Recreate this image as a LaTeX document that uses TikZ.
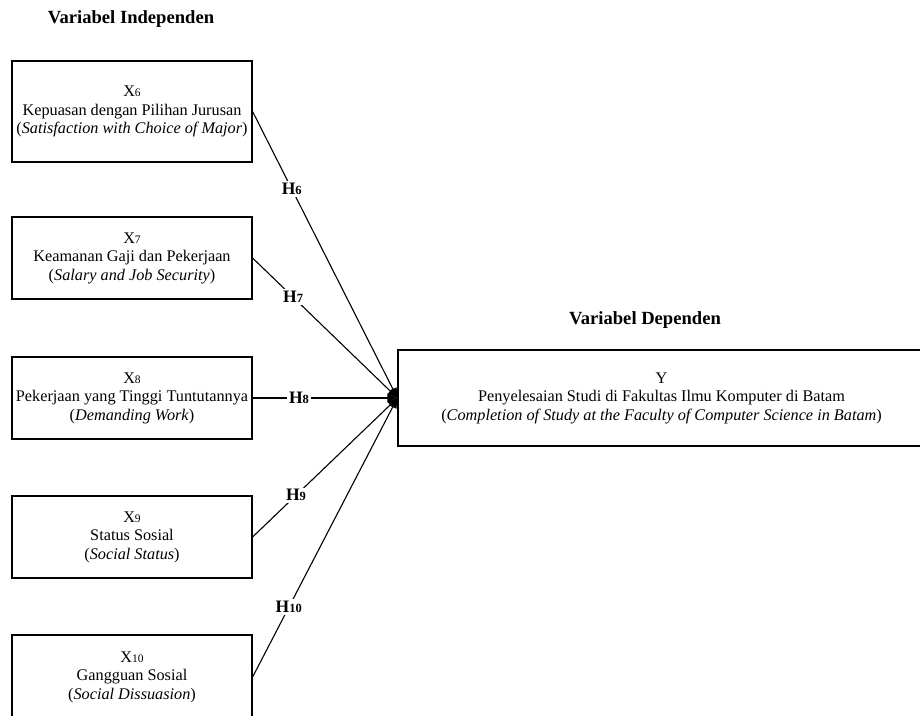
\documentclass[tikz,border=0pt]{standalone}
\usepackage{fontspec}
\setmainfont{Liberation Serif}
\usetikzlibrary{arrows.meta}
\newcommand\smalldigit[1]{{\fontsize{11.5}{12}\selectfont #1}}
\newcommand\hdigit[1]{{\fontsize{12.5}{13}\selectfont #1}}
\begin{document}
\begin{tikzpicture}[x=1pt,y=-1pt,
  box/.style={draw, line width=1.2pt, align=center, inner sep=0pt,
    font=\fontsize{16.25}{18.5}\selectfont},
  xbox/.style={box, minimum width=240pt, minimum height=82pt},
  title/.style={font=\fontsize{18.6}{22}\selectfont\bfseries},
  hyp/.style={fill=white, inner sep=2pt, font=\fontsize{17.5}{20}\selectfont\bfseries},
  link/.style={line width=1.1pt, -{Triangle[length=10pt,width=8pt]}}]
\useasboundingbox (0,0) rectangle (920,715);
\clip (0,0) rectangle (920,715);

\node[title] (t1) at (131,19) {Variabel Independen};
\node[title] (t2) at (645,320) {Variabel Dependen};

\node[xbox, minimum height=101pt] (x6) at (132,111.5)
  {X\smalldigit{6}\\Kepuasan dengan Pilihan Jurusan\\(\textit{Satisfaction with Choice of Major})};
\node[xbox] (x7) at (132,258)
  {X\smalldigit{7}\\Keamanan Gaji dan Pekerjaan\\(\textit{Salary and Job Security})};
\node[xbox] (x8) at (132,398)
  {X\smalldigit{8}\\Pekerjaan yang Tinggi Tuntutannya\\(\textit{Demanding Work})};
\node[xbox] (x9) at (132,537)
  {X\smalldigit{9}\\Status Sosial\\(\textit{Social Status})};
\node[xbox, minimum height=84pt] (x10) at (132,677)
  {X\smalldigit{10}\\Gangguan Sosial\\(\textit{Social Dissuasion})};

\node[box, minimum width=527pt, minimum height=96pt] (y) at (661.5,398)
  {Y\\Penyelesaian Studi di Fakultas Ilmu Komputer di Batam\\(\textit{Completion of Study at the Faculty of Computer Science in Batam})};

\draw[link] (x6.east) -- node[hyp, pos=0.27] {H\hdigit{6}} (y.west);
\draw[link] (x7.east) -- node[hyp, pos=0.28] {H\hdigit{7}} (y.west);
\draw[link] (x8.east) -- node[hyp, pos=0.32] {H\hdigit{8}} (y.west);
\draw[link] (x9.east) -- node[hyp, pos=0.30] {H\hdigit{9}} (y.west);
\draw[link] (x10.east) -- node[hyp, pos=0.25] {H\hdigit{10}} (y.west);
\end{tikzpicture}
\end{document}
